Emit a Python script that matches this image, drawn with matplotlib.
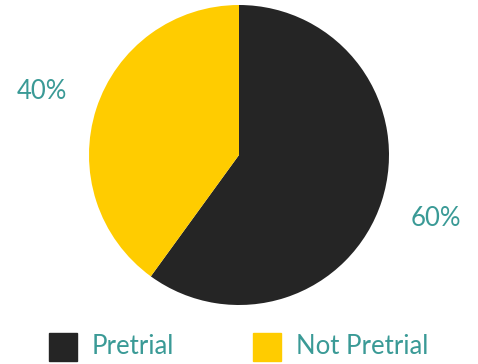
import matplotlib
matplotlib.use("Agg")
import matplotlib.pyplot as plt
from matplotlib.patches import Rectangle

categories = ["Pretrial", "Not Pretrial"]
values = [60, 40]
colors = ["#252525", "#FFCC00"]
text_color = "#3A9A96"

plt.rcParams['font.family'] = ['Lato', 'DejaVu Sans']

W, H = 478, 364
fig = plt.figure(figsize=(W / 100, H / 100), dpi=100)
ax = fig.add_axes([89 / W, (H - 305) / H, 300 / W, 300 / H])
ax.pie(values, colors=colors, startangle=90, counterclock=False,
       autopct='%d%%', pctdistance=1.38,
       textprops=dict(color=text_color, fontsize=18.5))
ax.set_xlim(-1, 1)
ax.set_ylim(-1, 1)
ax.set_aspect('equal')
ax.set_axis_off()

# legend
sq_x = [49, 253]
for i, (cat, col) in enumerate(zip(categories, colors)):
    x = sq_x[i]
    fig.add_artist(Rectangle((x / W, (H - 361) / H), 28 / W, 28 / H,
                             transform=fig.transFigure, color=col))
    fig.text((x + 43) / W, (H - 347) / H, cat, color=text_color,
             fontsize=18.5, va='center', ha='left')

fig.savefig("out.png", dpi=100)
